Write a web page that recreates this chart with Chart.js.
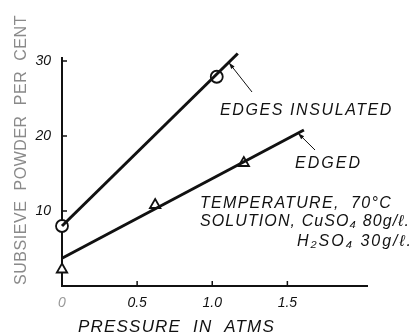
<!DOCTYPE html>
<html lang="en">
  <head>
    <meta charset="UTF-8" />
    <title>Subsieve powder vs pressure</title>
    <script src="https://cdn.jsdelivr.net/npm/chart.js"></script>
    <style>
      body { margin: 0; background: #fff; }
      #wrap { width: 419px; height: 335px; }
    </style>
  </head>
  <body>
    <div id="wrap"><canvas id="chart"></canvas></div>
    <script>
      // pressure (atm) -> subsieve powder (%)
      const insulatedX = [0, 1.03];
      const insulatedY = [8.0, 27.9];
      const edgedX = [0, 0.62, 1.21];
      const edgedY = [2.2, 10.8, 16.4];
      // the drawn straight lines, ends
      const insulatedLineX = [0, 1.17];
      const insulatedLineY = [8.0, 31.0];
      const edgedLineX = [0, 1.61];
      const edgedLineY = [3.7, 20.8];

      const xTicks = [0, 0.5, 1.0, 1.5];
      const xTickLabels = ['0', '0.5', '1.0', '1.5'];
      const yTicks = [10, 20, 30];
      const yTickLabels = ['10', '20', '30'];

      const ink = '#111';
      const FONT = '"Liberation Sans", Arial, sans-serif';

      const pts = (xs, ys) => xs.map((x, i) => ({ x: x, y: ys[i] }));

      // text squeezed/spread to a given width
      function spaced(ctx, text, x, y, width) {
        ctx.letterSpacing = '0px';
        const w = ctx.measureText(text).width;
        ctx.letterSpacing = ((width - w) / text.length) + 'px';
        ctx.fillText(text, x, y);
        ctx.letterSpacing = '0px';
      }

      function arrow(ctx, x1, y1, x2, y2) {
        ctx.beginPath();
        ctx.moveTo(x1, y1);
        ctx.lineTo(x2, y2);
        ctx.stroke();
        const a = Math.atan2(y2 - y1, x2 - x1);
        ctx.beginPath();
        ctx.moveTo(x2, y2);
        ctx.lineTo(x2 - 7 * Math.cos(a - 0.3), y2 - 7 * Math.sin(a - 0.3));
        ctx.lineTo(x2 - 7 * Math.cos(a + 0.3), y2 - 7 * Math.sin(a + 0.3));
        ctx.closePath();
        ctx.fill();
      }

      const notes = {
        id: 'notes',
        afterDraw(chart) {
          const ctx = chart.ctx;
          const xs = chart.scales.x;
          const ys = chart.scales.y;
          const area = chart.chartArea;
          ctx.save();
          ctx.strokeStyle = ink;
          ctx.fillStyle = ink;
          ctx.lineWidth = 1.5;

          // ticks pointing inwards
          xTicks.slice(1).forEach(v => {
            const px = xs.getPixelForValue(v);
            ctx.beginPath();
            ctx.moveTo(px, area.bottom);
            ctx.lineTo(px, area.bottom - 5);
            ctx.stroke();
          });
          yTicks.forEach(v => {
            const py = ys.getPixelForValue(v);
            ctx.beginPath();
            ctx.moveTo(area.left, py);
            ctx.lineTo(area.left + 5, py);
            ctx.stroke();
          });

          // leader arrows
          ctx.lineWidth = 1;
          arrow(ctx, 252, 92, xs.getPixelForValue(1.11), ys.getPixelForValue(29.8));
          arrow(ctx, 315, 150, xs.getPixelForValue(1.57), ys.getPixelForValue(20.4));

          // labels
          ctx.font = 'italic 16px ' + FONT;
          ctx.textBaseline = 'alphabetic';
          ctx.textAlign = 'left';
          spaced(ctx, 'EDGES INSULATED', 220, 115, 173);
          spaced(ctx, 'EDGED', 295, 168, 67);
          spaced(ctx, 'TEMPERATURE,  70°C', 200, 208, 192);
          spaced(ctx, 'SOLUTION, CuSO₄ 80g/ℓ.', 200, 226, 210);
          spaced(ctx, 'H₂SO₄ 30g/ℓ.', 297, 246, 116);

          // axis titles
          ctx.font = 'italic 17px ' + FONT;
          spaced(ctx, 'PRESSURE  IN  ATMS', 78, 332, 197);

          ctx.save();
          ctx.translate(26, 285);
          ctx.rotate(-Math.PI / 2);
          ctx.fillStyle = '#8a8a8a';
          ctx.font = '16px ' + FONT;
          spaced(ctx, 'SUBSIEVE  POWDER  PER  CENT', 0, 0, 270);
          ctx.restore();

          ctx.restore();
        }
      };

      const whiteBg = {
        id: 'whiteBg',
        beforeDraw(chart) {
          const ctx = chart.ctx;
          ctx.save();
          ctx.fillStyle = '#fff';
          ctx.fillRect(0, 0, chart.width, chart.height);
          ctx.restore();
        }
      };

      const lineStyle = {
        showLine: true,
        pointRadius: 0,
        borderColor: ink,
        borderWidth: 3,
        clip: false
      };
      const markStyle = {
        showLine: false,
        pointRadius: 6,
        pointBorderWidth: 1.8,
        pointBorderColor: ink,
        pointBackgroundColor: '#fff',
        clip: false
      };

      new Chart(document.getElementById('chart'), {
        type: 'scatter',
        data: {
          datasets: [
            Object.assign({ label: 'Edges insulated line', data: pts(insulatedLineX, insulatedLineY) }, lineStyle),
            Object.assign({ label: 'Edged line', data: pts(edgedLineX, edgedLineY) }, lineStyle),
            Object.assign({ label: 'Edges insulated', data: pts(insulatedX, insulatedY), pointStyle: 'circle' }, markStyle),
            Object.assign({ label: 'Edged', data: pts(edgedX, edgedY), pointStyle: 'triangle' }, markStyle)
          ]
        },
        options: {
          responsive: true,
          maintainAspectRatio: false,
          animation: false,
          layout: { padding: { top: 58, right: 52, left: 0, bottom: 0 } },
          plugins: {
            legend: { display: false },
            tooltip: { enabled: false }
          },
          scales: {
            x: {
              type: 'linear',
              min: 0,
              max: 2.03,
              afterBuildTicks: s => { s.ticks = xTicks.map(v => ({ value: v })); },
              afterFit: s => { s.height = 49; },
              grid: { drawOnChartArea: false, drawTicks: false },
              border: { display: true, color: ink, width: 2 },
              ticks: {
                padding: 9,
                font: { family: FONT, size: 14, style: 'italic' },
                color: c => (c.index === 0 ? '#999' : ink),
                callback: (v, i) => xTickLabels[i]
              }
            },
            y: {
              min: 0,
              max: 30.4,
              afterBuildTicks: s => { s.ticks = yTicks.map(v => ({ value: v })); },
              afterFit: s => { s.width = 62; },
              grid: { drawOnChartArea: false, drawTicks: false },
              border: { display: true, color: ink, width: 2 },
              ticks: {
                padding: 11,
                font: { family: FONT, size: 14, style: 'italic' },
                color: ink,
                callback: (v, i) => yTickLabels[i]
              }
            }
          }
        },
        plugins: [whiteBg, notes]
      });
    </script>
  </body>
</html>
